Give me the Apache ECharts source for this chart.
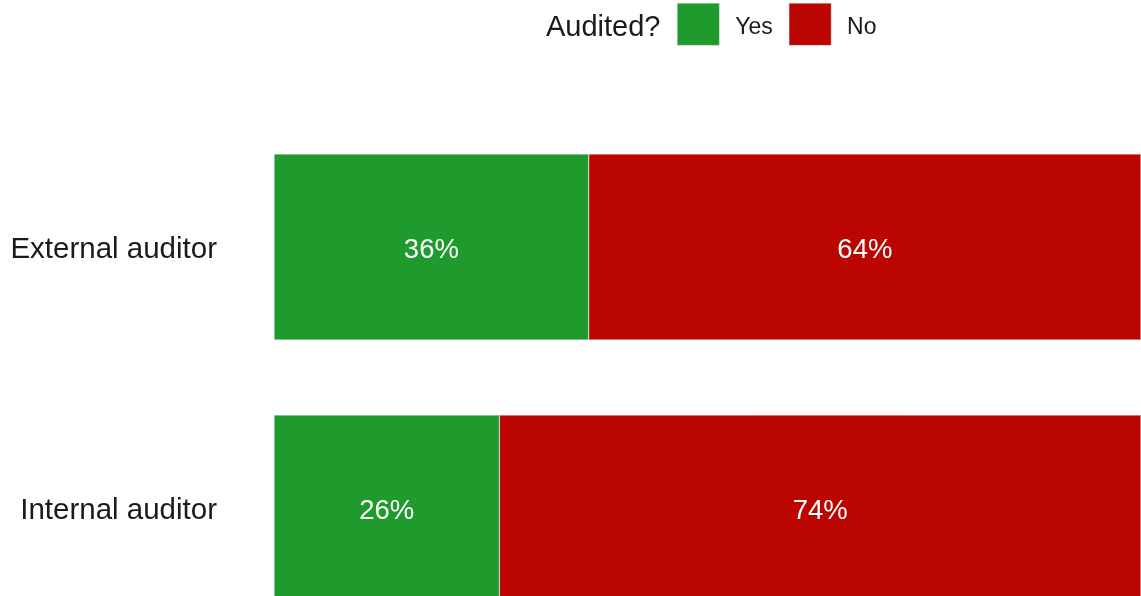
<!DOCTYPE html>
<html>
<head>
<meta charset="utf-8">
<script src="https://cdn.jsdelivr.net/npm/echarts@6/dist/echarts.min.js"></script>
<style>
html,body{margin:0;padding:0;background:#fff;}
#c{width:1141px;height:596px;}
</style>
</head>
<body>
<div id="c"></div>
<script>
const categories = ['External auditor', 'Internal auditor'];
const seriesNames = ['Yes', 'No'];
const yesValues = [36.3, 26.0];
const noValues = [63.7, 74.0];
const legendTitle = 'Audited?';

const chart = echarts.init(document.getElementById('c'), null, {renderer: 'canvas'});
const font = 'Liberation Sans, Arial, Helvetica, sans-serif';
const colors = ['#1F9A2C', '#BA0500'];

function mkSeries(name, data, color) {
  return {
    name: name,
    type: 'bar',
    stack: 'total',
    data: data,
    barWidth: 186,
    itemStyle: {color: color, borderColor: 'rgba(220,220,220,0.7)', borderWidth: 0.6},
    label: {
      show: true,
      position: 'inside',
      offset: [0, 3],
      color: '#ffffff',
      fontFamily: font,
      fontSize: 27.5,
      formatter: p => Math.round(p.value) + '%'
    },
    emphasis: {disabled: true}
  };
}

chart.setOption({
  animation: false,
  backgroundColor: '#ffffff',
  title: {
    text: legendTitle,
    left: 546,
    top: 13,
    textStyle: {fontFamily: font, fontSize: 29, fontWeight: 'normal', color: '#1a1a1a'},
    padding: 0
  },
  legend: {
    data: seriesNames,
    left: 677,
    top: 3,
    padding: 0,
    itemWidth: 42,
    itemHeight: 42,
    itemGap: 16,
    icon: 'rect',
    itemStyle: {borderColor: 'rgba(220,220,220,0.7)', borderWidth: 0.6},
    formatter: n => '{t|' + n + '}',
    textStyle: {
      fontFamily: font, fontSize: 23, color: '#1a1a1a', padding: [0, 0, 0, 11],
      rich: {t: {fontFamily: font, fontSize: 23, color: '#1a1a1a', padding: [6, 0, 0, 0]}}
    }
  },
  grid: {left: 274, right: 0, top: 116.5, height: 522, containLabel: false, outerBoundsMode: 'none'},
  xAxis: {
    type: 'value', min: 0, max: 100, show: false
  },
  yAxis: {
    type: 'category',
    data: categories,
    inverse: true,
    axisLine: {show: false},
    axisTick: {show: false},
    splitLine: {show: false},
    axisLabel: {
      fontFamily: font, fontSize: 29.5, color: '#1a1a1a', margin: 57,
      formatter: v => '{a|' + v + '}',
      rich: {a: {fontFamily: font, fontSize: 29.5, color: '#1a1a1a', padding: [6, 0, 0, 0]}}
    }
  },
  series: [
    mkSeries(seriesNames[0], yesValues, colors[0]),
    mkSeries(seriesNames[1], noValues, colors[1])
  ]
});
</script>
</body>
</html>
